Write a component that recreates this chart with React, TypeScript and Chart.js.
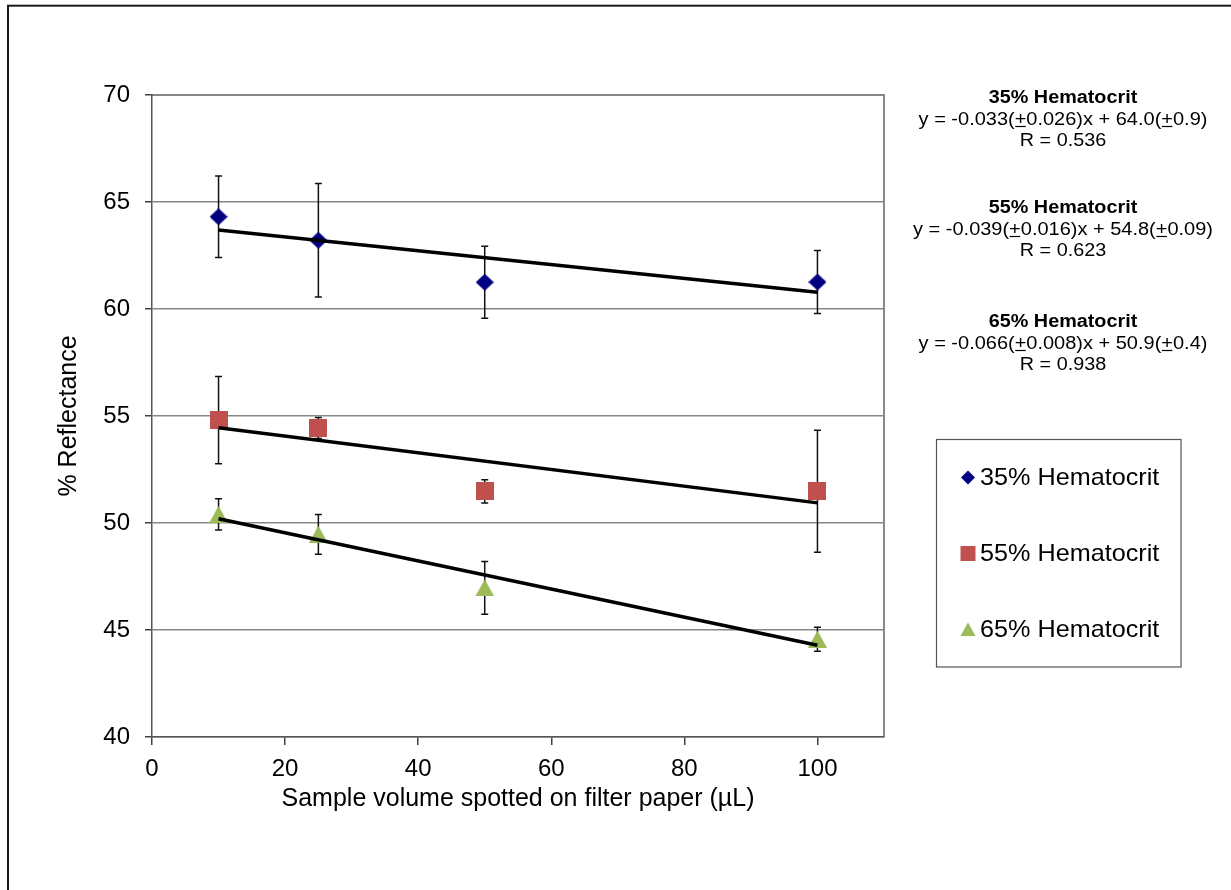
import React, { useEffect, useRef } from "react";
import { Chart, registerables } from "chart.js";

Chart.register(...registerables);

// ---------- data ----------
const volumes = [10, 25, 50, 100];
const hct35 = [64.31, 63.21, 61.25, 61.26];
const hct35Err = [1.9, 2.65, 1.68, 1.47];
const hct55 = [54.81, 54.44, 51.48, 51.48];
const hct55Err = [2.04, 0.49, 0.54, 2.85];
const hct65 = [50.4, 49.47, 46.97, 44.57];
const hct65Err = [0.73, 0.93, 1.23, 0.56];

const trendX = [10, 100];
const trend35 = [63.69, 60.78];
const trend55 = [54.45, 50.94];
const trend65 = [50.2, 44.29];

const seriesNames = ["35% Hematocrit", "55% Hematocrit", "65% Hematocrit"];
const seriesColors = ["#000080", "#C0504D", "#9BBB59"];

const eqTitles = ["35% Hematocrit", "55% Hematocrit", "65% Hematocrit"];
const eqLines = [
  "y = -0.033(±0.026)x + 64.0(±0.9)",
  "y = -0.039(±0.016)x + 54.8(±0.09)",
  "y = -0.066(±0.008)x + 50.9(±0.4)",
];
const eqR = ["R = 0.536", "R = 0.623", "R = 0.938"];

const xTicks = [0, 20, 40, 60, 80, 100];
const yTicks = [40, 45, 50, 55, 60, 65, 70];
const xTitle = "Sample volume spotted on filter paper (µL)";
const yTitle = "% Reflectance";

const FONT = '"Liberation Sans", Arial, sans-serif';

function makeMarker(kind: string, color: string) {
  const c = document.createElement("canvas");
  const w = kind === "tri" ? 19 : 18;
  const h = kind === "tri" ? 17 : kind === "dia" ? 17 : 18;
  c.width = w;
  c.height = h;
  const g = c.getContext("2d")!;
  g.fillStyle = color;
  g.beginPath();
  if (kind === "dia") {
    g.moveTo(w / 2, 0);
    g.lineTo(w, h / 2);
    g.lineTo(w / 2, h);
    g.lineTo(0, h / 2);
  } else if (kind === "sq") {
    g.rect(0, 0, w, h);
  } else {
    g.moveTo(w / 2, 0);
    g.lineTo(w, h);
    g.lineTo(0, h);
  }
  g.closePath();
  g.fill();
  return c;
}

function drawLegendMarker(ctx: CanvasRenderingContext2D, kind: string, color: string, x: number, y: number) {
  ctx.fillStyle = color;
  ctx.beginPath();
  if (kind === "dia") {
    ctx.moveTo(x, y - 7);
    ctx.lineTo(x + 7, y);
    ctx.lineTo(x, y + 7);
    ctx.lineTo(x - 7, y);
  } else if (kind === "sq") {
    ctx.rect(x - 7.5, y - 7.5, 15, 15);
  } else {
    ctx.moveTo(x, y - 7);
    ctx.lineTo(x + 7.5, y + 6.5);
    ctx.lineTo(x - 7.5, y + 6.5);
  }
  ctx.closePath();
  ctx.fill();
}

function drawEqLine(ctx: CanvasRenderingContext2D, text: string, cx: number, baseline: number, font: string, sx: number) {
  ctx.font = font;
  const parts = text.split("±");
  const segs: { t: string; u: boolean }[] = [];
  parts.forEach((p, i) => {
    if (i > 0) segs.push({ t: "+", u: true });
    if (p) segs.push({ t: p, u: false });
  });
  let total = 0;
  segs.forEach((s) => (total += ctx.measureText(s.t).width));
  ctx.save();
  ctx.translate(cx - (total * sx) / 2, baseline);
  ctx.scale(sx, 1);
  let x = 0;
  ctx.textAlign = "left";
  ctx.textBaseline = "alphabetic";
  ctx.fillStyle = "#000";
  ctx.strokeStyle = "#000";
  segs.forEach((s) => {
    const w = ctx.measureText(s.t).width;
    ctx.fillText(s.t, x, 0);
    if (s.u) {
      ctx.lineWidth = 1.2;
      ctx.beginPath();
      ctx.moveTo(x + 0.5, 2);
      ctx.lineTo(x + w - 0.5, 2);
      ctx.stroke();
    }
    x += w;
  });
  ctx.restore();
}

const series = [
  { vals: hct35, errs: hct35Err },
  { vals: hct55, errs: hct55Err },
  { vals: hct65, errs: hct65Err },
];
const kinds = ["dia", "sq", "tri"];

const decorPlugin = {
  id: "decor",
  beforeDraw(chart: any) {
    const { ctx, chartArea: a } = chart;
    ctx.save();
    ctx.fillStyle = "#fff";
    ctx.fillRect(0, 0, chart.width, chart.height);
    ctx.strokeStyle = "#1a1a1a";
    ctx.lineWidth = 2;
    ctx.strokeRect(8, 5.7, 1400, 1000);
    ctx.strokeStyle = "#878787";
    ctx.lineWidth = 2;
    ctx.beginPath();
    ctx.moveTo(a.left, a.top);
    ctx.lineTo(a.right, a.top);
    ctx.lineTo(a.right, a.bottom);
    ctx.stroke();
    ctx.restore();
  },
  beforeDatasetsDraw(chart: any) {
    const { ctx } = chart;
    const xs = chart.scales.x;
    const ys = chart.scales.y;
    ctx.save();
    ctx.strokeStyle = "#111";
    ctx.lineWidth = 1.5;
    series.forEach((s) => {
      s.vals.forEach((v, j) => {
        const x = xs.getPixelForValue(volumes[j]);
        const t = ys.getPixelForValue(v + s.errs[j]);
        const b = ys.getPixelForValue(v - s.errs[j]);
        ctx.beginPath();
        ctx.moveTo(x, t);
        ctx.lineTo(x, b);
        ctx.moveTo(x - 3.5, t);
        ctx.lineTo(x + 3.5, t);
        ctx.moveTo(x - 3.5, b);
        ctx.lineTo(x + 3.5, b);
        ctx.stroke();
      });
    });
    ctx.restore();
  },
  afterDraw(chart: any) {
    const { ctx } = chart;
    ctx.save();
    // legend box
    ctx.strokeStyle = "#555";
    ctx.lineWidth = 1.2;
    ctx.strokeRect(936.5, 439.5, 244.5, 227.5);
    const ly = [477.5, 553.5, 629.5];
    seriesNames.forEach((n, i) => {
      drawLegendMarker(ctx, kinds[i], seriesColors[i], 968, ly[i]);
      ctx.save();
      ctx.translate(980, ly[i]);
      ctx.scale(1.05, 1);
      ctx.font = `24px ${FONT}`;
      ctx.fillStyle = "#000";
      ctx.textAlign = "left";
      ctx.textBaseline = "middle";
      ctx.fillText(n, 0, 1);
      ctx.restore();
    });
    // equations
    const base = [
      [102.5, 124.5, 146],
      [212.5, 234.5, 256],
      [327, 348.5, 370],
    ];
    const cx = 1063;
    eqTitles.forEach((t, i) => {
      drawEqLine(ctx, t, cx, base[i][0], `bold 18px ${FONT}`, 1.1);
      drawEqLine(ctx, eqLines[i], cx, base[i][1], `18px ${FONT}`, 1.11);
      drawEqLine(ctx, eqR[i], cx, base[i][2], `18px ${FONT}`, 1.1);
    });
    ctx.restore();
  },
};

export default function App() {
  const ref = useRef<HTMLCanvasElement>(null);
  useEffect(() => {
    if (!ref.current) return;
    const markers = kinds.map((k, i) => makeMarker(k, seriesColors[i]));
    const pts = (xs: number[], ys: number[]) => xs.map((x, i) => ({ x, y: ys[i] }));
    const trendDs = (ys: number[]) => ({
      label: "trend",
      data: pts(trendX, ys),
      showLine: true,
      borderColor: "#000",
      borderWidth: 3.5,
      pointRadius: 0,
      order: 0,
    });
    const chart = new Chart(ref.current, {
      type: "scatter",
      data: {
        datasets: [
          ...series.map((s, i) => ({
            label: seriesNames[i],
            data: pts(volumes, s.vals),
            pointStyle: markers[i] as any,
            pointRadius: 9,
            backgroundColor: seriesColors[i],
            borderColor: seriesColors[i],
            showLine: false,
            order: 1,
          })),
          trendDs(trend35),
          trendDs(trend55),
          trendDs(trend65),
        ] as any,
      },
      options: {
        animation: false,
        responsive: false,
        layout: { padding: { left: 0, top: 95, right: 347, bottom: 0 } },
        plugins: { legend: { display: false }, tooltip: { enabled: false } },
        scales: {
          x: {
            type: "linear",
            min: 0,
            max: 110,
            afterBuildTicks: (s: any) => {
              s.ticks = xTicks.map((v) => ({ value: v }));
            },
            afterFit: (s: any) => {
              s.height = 153;
            },
            grid: { drawOnChartArea: false, drawTicks: true, tickLength: 8, color: "#404040", lineWidth: 1.5 },
            border: { color: "#555", width: 1.5 },
            ticks: { font: { family: FONT, size: 24 }, color: "#000", padding: 10, maxRotation: 0 },
            title: {
              display: true,
              text: xTitle,
              font: { family: FONT, size: 25 },
              color: "#000",
              padding: { top: 0, bottom: 76 },
            },
          },
          y: {
            min: 40,
            max: 70,
            afterBuildTicks: (s: any) => {
              s.ticks = yTicks.map((v) => ({ value: v }));
            },
            afterFit: (s: any) => {
              s.width = 152;
            },
            grid: { color: "#878787", lineWidth: 1.5, tickColor: "#404040", tickLength: 7 },
            border: { color: "#555", width: 1.5 },
            ticks: { font: { family: FONT, size: 24 }, color: "#000", padding: 15 },
            title: {
              display: true,
              text: yTitle,
              font: { family: FONT, size: 25 },
              color: "#000",
              padding: { top: 54, bottom: 0 },
            },
          },
        },
      },
      plugins: [decorPlugin],
    } as any);
    return () => chart.destroy();
  }, []);
  return (
    <div style={{ position: "absolute", left: 0, top: 0, width: 1231, height: 890, overflow: "hidden", background: "#fff" }}>
      <canvas ref={ref} width={1231} height={890} style={{ width: 1231, height: 890, display: "block" }} />
    </div>
  );
}
